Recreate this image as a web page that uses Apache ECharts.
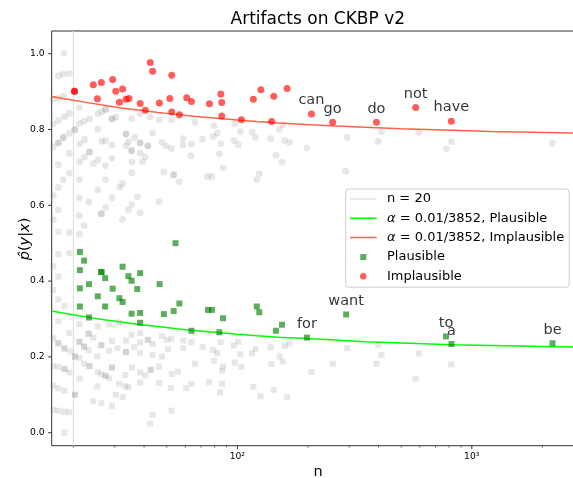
<!DOCTYPE html>
<html><head><meta charset="utf-8">
<script src="https://cdn.jsdelivr.net/npm/echarts@6/dist/echarts.min.js"></script>
<style>html,body{margin:0;padding:0;background:#fff}#c{width:573px;height:478px}</style>
</head><body><div id="c"></div>
<script>
const FONT = 'DejaVu Sans';
const X_MIN = 16.15, X_MAX = 3010, Y_MIN = -0.0343, Y_MAX = 1.06;
const yTicks = [0, 0.2, 0.4, 0.6, 0.8, 1.0];
const xMajorTicks = [100, 1000];
const xMajorLabels = {100: '10²', 1000: '10³'};
const xMinorTicks = [20,30,40,50,60,70,80,90,200,300,400,500,600,700,800,900,2000,3000];
const nLine = [[20, Y_MIN], [20, Y_MAX]];

// gray background words (circles: implausibility side, squares: plausibility side)
const grayCircles = [
 [18.2,1.001],[17.25,0.942],[18.1,0.946],[19.2,0.948],[16.4,0.881],[17.25,0.882],[18.2,0.889],
 [19.2,0.843],[18.3,0.834],[17.25,0.824],[16.4,0.815],[21.2,0.858],[27.4,0.853],[27.4,0.853],
 [26.4,0.847],[25.4,0.842],[23.4,0.828],[22.2,0.822],[21.2,0.816],[20.25,0.800],[20.25,0.800],
 [19.2,0.790],[18.1,0.779],[18.1,0.779],[17.25,0.765],[17.25,0.765],[16.4,0.754],[29.2,0.828],
 [29.2,0.828],[30.3,0.833],[35.4,0.829],[38.5,0.842],[42.5,0.834],[46.4,0.826],[52.4,0.826],
 [25.4,0.801],[27.4,0.770],[26.4,0.769],[29.2,0.759],[22.3,0.773],[21.3,0.763],[23.4,0.741],
 [23.4,0.741],[22.3,0.728],[21.3,0.715],[24.3,0.710],[25.4,0.720],[27.4,0.705],[29.2,0.724],
 [33.5,0.788],[33.5,0.788],[34.3,0.768],[33.5,0.757],[36.5,0.779],[38.5,0.765],[38.5,0.765],
 [41.5,0.757],[41.5,0.757],[43.5,0.791],[47.7,0.766],[49.8,0.757],[52.4,0.750],[35.4,0.744],
 [35.4,0.744],[35.5,0.714],[38.5,0.738],[40.5,0.728],[39.4,0.715],[19.2,0.737],[17.25,0.707],
 [17.25,0.647],[19.2,0.685],[18.1,0.668],[21.2,0.668],[25.4,0.641],[27.4,0.668],[29.2,0.620],
 [32.4,0.657],[31.5,0.648],[35.5,0.686],[37.5,0.622],[48.5,0.688],[53.3,0.680],[46.4,0.610],
 [16.4,0.626],[17.25,0.588],[21.2,0.619],[23.2,0.609],[27.4,0.594],[26.3,0.578],[26.3,0.578],
 [32.4,0.563],[34.3,0.588],[35.5,0.602],[38.5,0.580],[16.4,0.562],[17.25,0.530],[21.2,0.524],
 [21.2,0.573],[22.2,0.547],[19.2,0.474],
 [66,0.819],[79.5,0.810],[82.1,0.791],[79,0.782],[71,0.775],[58.8,0.776],[58.6,0.759],[63.7,0.762],
 [63.3,0.731],[84.9,0.763],[83.9,0.736],[86.8,0.699],[97.5,0.815],[103,0.795],[96.7,0.771],
 [101,0.760],[115.5,0.793],[119.6,0.779],[138.7,0.776],[146,0.732],[155,0.714],[151,0.800],
 [156,0.813],[159,0.771],[167,0.766],[53.7,0.681],[56.5,0.662],[74.5,0.676],[77.8,0.676],
 [121,0.668],[124,0.683],
 [198,0.751],[294,0.779],[290,0.690],[412,0.794],[399,0.769],[594,0.793],[779,0.749],[819,0.768],[2205,0.764]
];
const graySquares = [
 [17.25,0.471],[17.25,0.412],[16.4,0.377],[16.4,0.439],[17.25,0.352],[18.3,0.334],[17.25,0.294],
 [19.2,0.263],[21.2,0.286],[23.2,0.261],[23.2,0.261],[24.3,0.251],[25.4,0.280],[28.4,0.286],
 [29.2,0.242],[31.3,0.291],[16.4,0.249],[17.25,0.236],[17.25,0.236],[18.3,0.222],[18.3,0.222],
 [19.4,0.214],[20.3,0.201],[20.3,0.201],[21.2,0.240],[21.2,0.240],[22.2,0.227],[22.2,0.227],
 [23.2,0.218],[25.3,0.201],[26.3,0.231],[26.3,0.231],[28.4,0.216],[30.8,0.223],[33.5,0.243],
 [35.4,0.258],[33.5,0.213],[33.5,0.213],[36.3,0.226],[38.5,0.238],[38.5,0.263],[38.5,0.211],
 [41.5,0.245],[41.5,0.245],[43.5,0.234],[47.7,0.255],[50.1,0.245],[52.4,0.248],[50.6,0.221],
 [47.7,0.201],[43.5,0.205],[16.4,0.176],[17.25,0.174],[18.3,0.168],[18.3,0.168],[19.2,0.159],
 [21.2,0.197],[22.2,0.182],[23.4,0.176],[23.4,0.176],[25.4,0.160],[26.3,0.155],[27.4,0.150],
 [27.4,0.150],[28.4,0.144],[29.2,0.172],[29.2,0.172],[31.3,0.129],[33.3,0.123],[34.3,0.120],
 [35.5,0.172],[33.3,0.152],[38.5,0.159],[40.5,0.151],[42.7,0.166],[42.7,0.166],[46.4,0.174],
 [52.4,0.155],[16.4,0.124],[17.25,0.117],[18.3,0.111],[20.3,0.100],[20.3,0.100],[21.2,0.143],
 [25.3,0.122],[24.3,0.083],[26.3,0.078],[29.2,0.071],[30.3,0.100],[32.4,0.094],[38.5,0.132],
 [46.4,0.131],[52.0,0.118],[16.4,0.060],[17.25,0.058],[18.3,0.055],[19.2,0.054],[52.4,0.058],
 [43.5,0.047],[42.5,0.024],[18.3,0.000],[19.2,0.528],
 [58.8,0.243],[58.8,0.223],[63.7,0.239],[71,0.226],[79,0.218],[82.1,0.210],[84.9,0.239],[96.7,0.230],
 [101,0.240],[103,0.207],[115.5,0.209],[119.6,0.221],[138.7,0.226],[151.5,0.201],[156,0.188],
 [159.5,0.229],[167,0.235],[66,0.182],[79.5,0.190],[87,0.174],[86,0.164],[97.5,0.185],[104,0.174],
 [140,0.181],[55.8,0.161],[63.7,0.129],[60.5,0.117],[75.7,0.133],[86,0.129],[84.5,0.107],
 [117,0.121],[125.6,0.096],[143,0.113],[163,0.094],
 [207,0.160],[294,0.223],[255,0.182],[399,0.231],[412,0.205],[392,0.182],[594,0.209],[576,0.142],[818,0.180]
];

// highlighted words
const implausiblePts = [
 [20.2,0.901],[20.2,0.901],[24.3,0.918],[25.3,0.881],[26.3,0.924],[29.4,0.932],[30.3,0.901],
 [31.4,0.872],[32.4,0.907],[33.5,0.880],[34.5,0.882],[38.5,0.869],[40.5,0.851],[42.5,0.977],
 [43.5,0.954],[46.5,0.870],[51.5,0.882],[52.5,0.943],[52.5,0.846],[56.6,0.839],[60.8,0.884],
 [63.7,0.874],[76.0,0.868],[85.0,0.894],[85.8,0.871],[85.8,0.836],[104,0.826],[117,0.880],
 [126,0.905],[140,0.821],[143,0.888],[163,0.908]
];
const implausibleWords = ['can','go','do','not','have'];
const implausibleWordN = [207, 255, 392, 576, 818];
const implausibleWordP = [0.841, 0.819, 0.819, 0.858, 0.822];

const plausiblePts = [
 [21.3,0.477],[22.2,0.454],[21.3,0.429],[21.3,0.381],[21.3,0.333],[23.3,0.392],[23.3,0.304],
 [25.4,0.360],[26.2,0.424],[26.4,0.424],[27.3,0.408],[27.3,0.333],[29.4,0.380],[31.4,0.355],
 [32.4,0.345],[32.4,0.438],[34.3,0.413],[35.4,0.401],[35.4,0.314],[37.4,0.379],[38.5,0.421],
 [38.5,0.316],[38.5,0.290],[46.6,0.392],[48.6,0.313],[53.5,0.321],[54.5,0.500],[56.6,0.341],
 [63.7,0.269],[75.0,0.324],[77.9,0.324],[86.9,0.302],[83.8,0.265],[121,0.333],[124,0.318],
 [146,0.269],[155,0.285]
];
const plausibleWords = ['for','want','to','a','be'];
const plausibleWordN = [198, 291, 776, 819, 2210];
const plausibleWordP = [0.251, 0.312, 0.254, 0.234, 0.236];

// threshold curves
const curvePlausible = [
 [16.15,0.321],[18,0.316],[20,0.311],[23,0.305],[27,0.298],[32,0.292],[38.5,0.285],[46,0.280],
 [55,0.274],[65,0.270],[84,0.264],[100,0.260],[121,0.256],[150,0.252],[186,0.249],[250,0.245],
 [350,0.240],[500,0.237],[820,0.232],[1200,0.230],[1800,0.228],[2670,0.226],[3010,0.2256]
];
const curveImplausible = [
 [16.15,0.887],[18,0.882],[20,0.877],[23,0.871],[27,0.864],[32,0.857],[38.5,0.851],[46,0.845],
 [55,0.840],[65,0.835],[84,0.829],[100,0.825],[121,0.821],[150,0.817],[186,0.814],[250,0.810],
 [350,0.806],[500,0.802],[820,0.798],[1200,0.795],[1800,0.793],[2670,0.791],[3010,0.7907]
];

const NAME_N20 = 'n = 20';
const NAME_AP = 'α = 0.01/3852, Plausible';
const NAME_AI = 'α = 0.01/3852, Implausible';
const NAME_P = 'Plausible';
const NAME_I = 'Implausible';

const COL_GRAY = 'rgba(128,128,128,0.24)';
const COL_RED = 'rgba(255,0,0,0.8)';
const COL_GREEN = 'rgba(0,128,0,0.8)';
const COL_LIME = '#00ff00';
const COL_TOMATO = '#ff6347';
const COL_VLINE = '#e2e2e2';
const COL_SPINE = '#333';

const dot = 'M0,0h0.01v0.01h-0.01z M31.99,13.99h0.01v0.01h-0.01z ';
const ICON_LINE = 'path://' + dot + 'M0,6.25h26.7v1.5h-26.7z';
const ICON_SQ = 'path://' + dot + 'M10.3,4h6v6h-6z';
const ICON_CI = 'path://' + dot + 'M10.05,7a3.25,3.25 0 1,0 6.5,0a3.25,3.25 0 1,0 -6.5,0z';

function labelled(ns, ps, words) {
  return ns.map((n, i) => ({
    value: [n, ps[i]],
    label: {show: true, formatter: words[i]}
  }));
}

const wordLabel = {
  show: false, position: 'top', distance: 2.5,
  color: '#000', fontFamily: FONT, fontSize: 14.5
};

function tickSeries(data, kind, len) {
  return {
    type: 'custom', silent: true, z: 20, clip: false,
    data: data,
    renderItem: function (params, api) {
      const p = api.coord([api.value(0), api.value(1)]);
      const shape = kind === 'x'
        ? {x1: p[0], y1: p[1], x2: p[0], y2: p[1] + len}
        : {x1: p[0], y1: p[1], x2: p[0] - len, y2: p[1]};
      return {type: 'line', shape: shape, style: {stroke: COL_SPINE, lineWidth: len > 3 ? 1 : 0.7}};
    }
  };
}

const chart = echarts.init(document.getElementById('c'), null, {renderer: 'canvas'});
chart.setOption({
  animation: false,
  backgroundColor: '#fff',
  textStyle: {fontFamily: FONT},
  grid: {left: 51.7, right: -11, top: 31, bottom: 32.3, show: true, containLabel: false,
         outerBoundsMode: 'none',
         borderColor: COL_SPINE, borderWidth: 1, backgroundColor: 'transparent'},
  xAxis: {
    type: 'log', logBase: 10, min: X_MIN, max: X_MAX,
    axisLine: {show: false}, axisTick: {show: false}, splitLine: {show: false},
    axisLabel: {
      fontFamily: FONT, fontSize: 9.2, color: '#000', margin: 6,
      formatter: function (v) {
        for (const t of xMajorTicks) { if (Math.abs(v - t) < 1e-6 * t) return xMajorLabels[t]; }
        return '';
      }
    }
  },
  yAxis: {
    type: 'value', min: Y_MIN, max: Y_MAX,
    axisLine: {show: false}, axisTick: {show: false}, splitLine: {show: false},
    axisLabel: {
      fontFamily: FONT, fontSize: 9.2, color: '#000', margin: 7,
      formatter: function (v) {
        for (const t of yTicks) { if (Math.abs(v - t) < 1e-9) return t.toFixed(1); }
        return '';
      }
    }
  },
  legend: {
    orient: 'vertical', left: 345.7, top: 189,
    padding: [3, 5, 4, 4.3], itemGap: 5.3, itemWidth: 32, itemHeight: 14,
    backgroundColor: 'rgba(255,255,255,0.8)', borderColor: '#cccccc', borderWidth: 1, borderRadius: 3,
    selectedMode: false,
    textStyle: {fontFamily: FONT, fontSize: 13, color: '#000',
      rich: {i: {fontFamily: FONT, fontSize: 13, fontStyle: 'italic', color: '#000'},
             r: {fontFamily: FONT, fontSize: 13, color: '#000'}}},
    formatter: function (name) {
      if (name.charAt(0) === 'α') return '{i|α}{r|' + name.slice(1) + '}';
      return name;
    },
    data: [
      {name: NAME_N20, icon: ICON_LINE},
      {name: NAME_AP, icon: ICON_LINE},
      {name: NAME_AI, icon: ICON_LINE},
      {name: NAME_P, icon: ICON_SQ},
      {name: NAME_I, icon: ICON_CI}
    ]
  },
  graphic: [
    {type: 'text', x: 317.8, y: 20, z: 100,
     style: {text: 'Artifacts on CKBP v2', fill: '#000', font: '17px "DejaVu Sans"', align: 'center', verticalAlign: 'middle'}},
    {type: 'text', x: 318, y: 472.5, z: 100,
     style: {text: 'n', fill: '#000', font: '14.5px "DejaVu Sans"', align: 'center', verticalAlign: 'middle'}},
    {type: 'text', x: 25.5, y: 239, rotation: Math.PI / 2, z: 100,
     style: {text: '{i|p\u0302}{r|(}{i|y}{r||}{i|x}{r|)}', align: 'center', verticalAlign: 'middle',
       rich: {i: {font: 'italic 14.5px "DejaVu Sans"', fill: '#000'},
              r: {font: '14.5px "DejaVu Sans"', fill: '#000'}}}}
  ],
  series: [
    {name: NAME_N20, type: 'line', data: nLine, symbol: 'none', silent: true, z: 1,
     lineStyle: {color: COL_VLINE, width: 1.3}, itemStyle: {color: COL_VLINE}},
    {type: 'scatter', data: grayCircles, symbol: 'circle', symbolSize: 6.8, silent: true, z: 2,
     itemStyle: {color: COL_GRAY}},
    {type: 'scatter', data: graySquares, symbol: 'rect', symbolSize: 6, silent: true, z: 2,
     itemStyle: {color: COL_GRAY}},
    {name: NAME_AP, type: 'line', data: curvePlausible, symbol: 'none', smooth: false, silent: true, z: 3,
     lineStyle: {color: COL_LIME, width: 1.5}, itemStyle: {color: COL_LIME}},
    {name: NAME_AI, type: 'line', data: curveImplausible, symbol: 'none', smooth: false, silent: true, z: 3,
     lineStyle: {color: COL_TOMATO, width: 1.5}, itemStyle: {color: COL_TOMATO}},
    {name: NAME_P, type: 'scatter', symbol: 'rect', symbolSize: 6, z: 4, silent: true,
     data: plausiblePts.concat(labelled(plausibleWordN, plausibleWordP, plausibleWords)),
     label: wordLabel, itemStyle: {color: COL_GREEN}},
    {name: NAME_I, type: 'scatter', symbol: 'circle', symbolSize: 7, z: 4, silent: true,
     data: implausiblePts.concat(labelled(implausibleWordN, implausibleWordP, implausibleWords)),
     label: wordLabel, itemStyle: {color: COL_RED}},
    tickSeries(yTicks.map(v => [X_MIN, v]), 'y', 3.5),
    tickSeries(xMajorTicks.map(v => [v, Y_MIN]), 'x', 3.5),
    tickSeries(xMinorTicks.map(v => [v, Y_MIN]), 'x', 2)
  ]
});
</script></body></html>
